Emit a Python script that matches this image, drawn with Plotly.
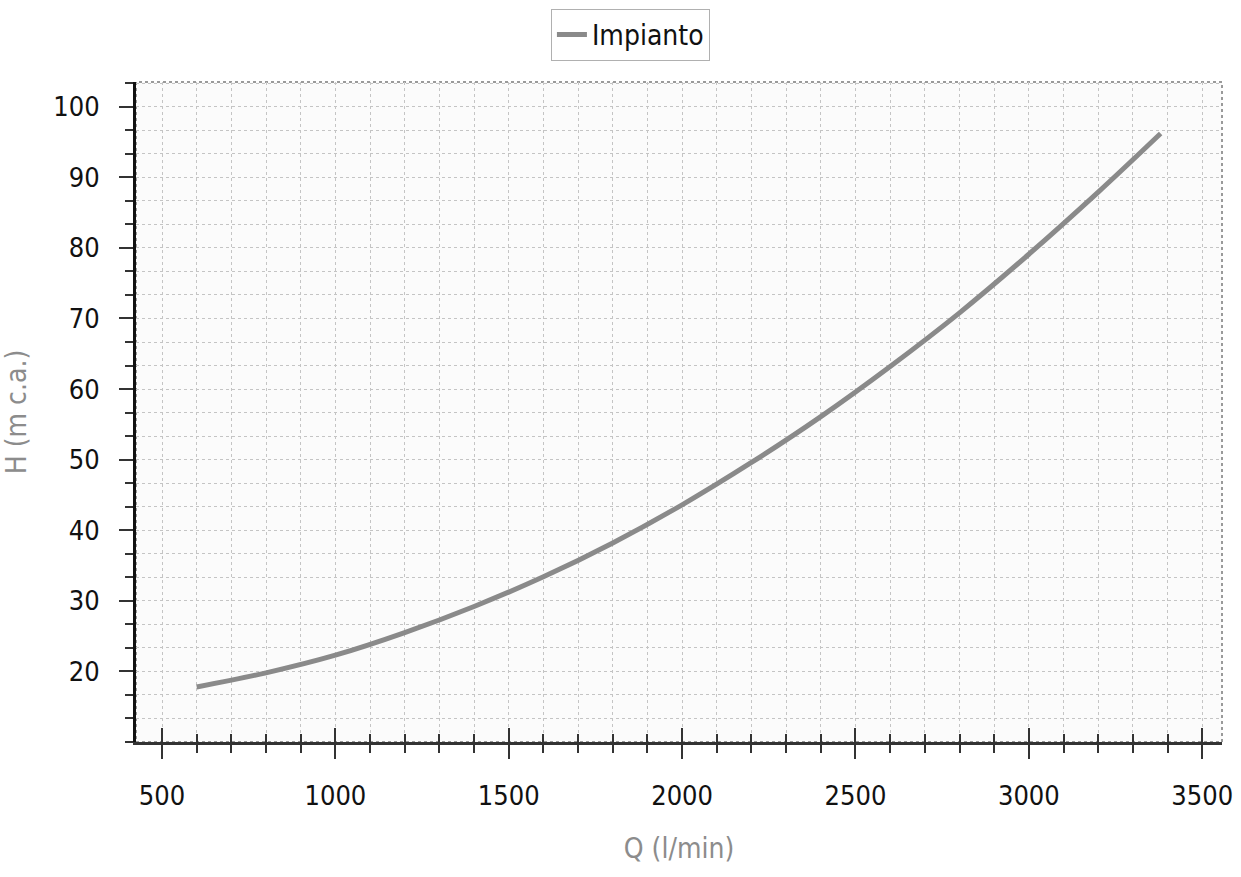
import plotly.graph_objects as go

# Data (system curve "Impianto")
portata_q = [600, 800, 1000, 1200, 1400, 1600, 1800, 2000, 2200, 2400, 2600, 2800, 3000, 3200, 3380]
prevalenza_h = [17.8, 19.8, 22.3, 25.5, 29.2, 33.4, 38.2, 43.6, 49.6, 56.1, 63.2, 70.8, 79.1, 87.9, 96.2]

x_ticks = [500, 1000, 1500, 2000, 2500, 3000, 3500]
y_ticks = [20, 30, 40, 50, 60, 70, 80, 90, 100]

FONT = "DejaVu Sans Condensed, DejaVu Sans, sans-serif"
GRID = "#c4c4c4"

fig = go.Figure()
fig.add_trace(go.Scatter(
    x=portata_q, y=prevalenza_h, mode="lines", name="Impianto",
    line=dict(color="#8a8a8a", width=5, shape="spline"),
))
# overlay copy used only to carry the inward half of the crossing x ticks
fig.add_trace(go.Scatter(
    x=portata_q, y=prevalenza_h, mode="lines", xaxis="x2", showlegend=False,
    line=dict(color="rgba(0,0,0,0)", width=1), hoverinfo="skip",
))

fig.update_layout(
    width=1241, height=877,
    margin=dict(l=136, r=19, t=82, b=135, autoexpand=False),
    paper_bgcolor="white", plot_bgcolor="#fbfbfb",
    font=dict(family=FONT, size=27, color="#111111"),
    showlegend=True,
    legend=dict(
        xref="container", yref="container", x=0.508, y=0.99,
        xanchor="center", yanchor="top", orientation="h",
        bordercolor="#b0b0b0", borderwidth=1, bgcolor="white",
        font=dict(family=FONT, size=28, color="#111111"),
        itemwidth=30,
    ),
    xaxis=dict(
        range=[425, 3557], tickvals=x_ticks, ticktext=[str(v) for v in x_ticks],
        showline=True, linecolor="#333333", linewidth=3, automargin=False,
        ticks="outside", ticklen=14, tickwidth=2, tickcolor="#333333",
        ticklabelstandoff=14,
        showgrid=True, gridcolor=GRID, griddash="dot", gridwidth=1,
        minor=dict(dtick=100, tick0=500, ticks="outside", ticklen=8, tickwidth=2,
                   tickcolor="#333333", showgrid=True, gridcolor=GRID,
                   griddash="dot", gridwidth=1),
        zeroline=False,
        title=dict(text="Q (l/min)", font=dict(family=FONT, size=28, color="#8c8c8c"),
                   standoff=28),
    ),
    xaxis2=dict(
        range=[425, 3557], overlaying="x", anchor="y", side="bottom", automargin=False,
        tickvals=x_ticks, showticklabels=False, showgrid=False, zeroline=False,
        ticks="inside", ticklen=14, tickwidth=2, tickcolor="#333333",
        minor=dict(dtick=100, tick0=500, ticks="inside", ticklen=8, tickwidth=2,
                   tickcolor="#333333", showgrid=False),
    ),
    yaxis=dict(
        range=[10, 103.5], tickvals=y_ticks, ticktext=[str(v) for v in y_ticks],
        showline=True, linecolor="#111111", linewidth=3, automargin=False,
        ticks="outside", ticklen=14, tickwidth=2, tickcolor="#333333",
        ticklabelstandoff=14,
        showgrid=True, gridcolor=GRID, griddash="dot", gridwidth=1,
        minor=dict(dtick=10 / 3, tick0=20, ticks="outside", ticklen=8, tickwidth=2,
                   tickcolor="#333333", showgrid=True, gridcolor=GRID,
                   griddash="dot", gridwidth=1),
        zeroline=False,
        title=dict(text="H (m c.a.)", font=dict(family=FONT, size=28, color="#8c8c8c"),
                   standoff=26),
    ),
    shapes=[dict(type="rect", xref="paper", yref="paper", x0=0, y0=0, x1=1, y1=1,
                 line=dict(color="#9a9a9a", width=2, dash="dot"), layer="below")],
)

fig.write_html(
    "out.html",
    config={"displayModeBar": False},
    post_script="document.body.style.margin='0';document.body.style.overflow='hidden';",
)
